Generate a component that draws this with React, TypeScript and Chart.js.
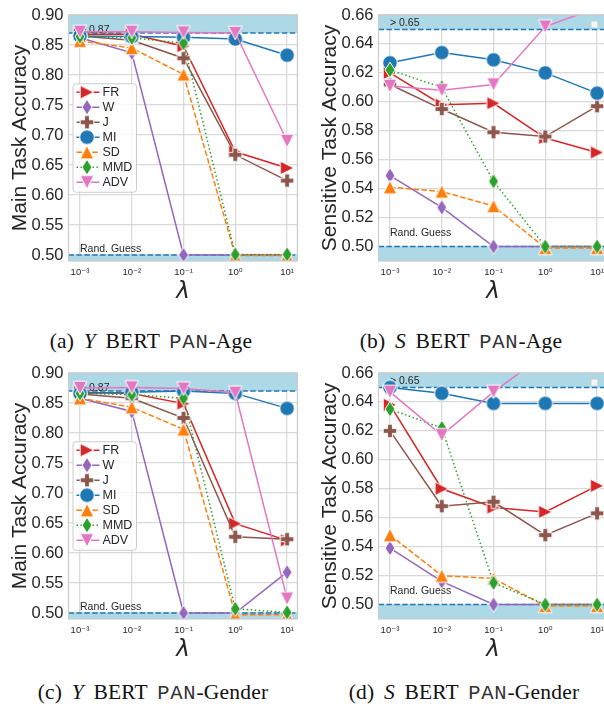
import React, { useEffect, useRef } from 'react';
import { Chart, registerables } from 'chart.js';

Chart.register(...registerables);

// ---------------- data ----------------
const LAMBDAS = [1e-3, 1e-2, 1e-1, 1, 10];
const X_TICK_LABELS = ['10⁻³', '10⁻²', '10⁻¹', '10⁰', '10¹'];
const METHODS = ['FR', 'W', 'J', 'MI', 'SD', 'MMD', 'ADV'];

const MAIN_Y_TICKS = [0.5, 0.55, 0.6, 0.65, 0.7, 0.75, 0.8, 0.85, 0.9];
const SENS_Y_TICKS = [0.5, 0.52, 0.54, 0.56, 0.58, 0.6, 0.62, 0.64, 0.66];

const MAIN_THRESHOLD = 0.87;
const SENS_THRESHOLD = 0.65;
const RAND_GUESS = 0.5;

// (a) Y BERT PAN-Age
const AGE_MAIN: Record<string, number[]> = {
  FR: [0.868, 0.868, 0.848, 0.672, 0.645],
  W: [0.862, 0.837, 0.5, 0.5, 0.5],
  J: [0.865, 0.858, 0.828, 0.667, 0.624],
  MI: [0.865, 0.864, 0.863, 0.86, 0.833],
  SD: [0.857, 0.845, 0.801, 0.499, 0.499],
  MMD: [0.864, 0.862, 0.853, 0.501, 0.501],
  ADV: [0.872, 0.872, 0.871, 0.87, 0.69],
};
// (b) S BERT PAN-Age
const AGE_SENS: Record<string, number[]> = {
  FR: [0.62, 0.598, 0.599, 0.575, 0.565],
  W: [0.549, 0.527, 0.5, 0.5, 0.5],
  J: [0.612, 0.595, 0.579, 0.576, 0.597],
  MI: [0.627, 0.634, 0.629, 0.62, 0.606],
  SD: [0.541, 0.538, 0.528, 0.499, 0.499],
  MMD: [0.622, 0.61, 0.545, 0.5, 0.5],
  ADV: [0.611, 0.608, 0.612, 0.652, 0.665],
};
// (c) Y BERT PAN-Gender
const GENDER_MAIN: Record<string, number[]> = {
  FR: [0.868, 0.866, 0.849, 0.649, 0.621],
  W: [0.858, 0.836, 0.5, 0.5, 0.568],
  J: [0.865, 0.858, 0.825, 0.627, 0.623],
  MI: [0.866, 0.868, 0.87, 0.866, 0.841],
  SD: [0.858, 0.843, 0.806, 0.497, 0.497],
  MMD: [0.866, 0.864, 0.858, 0.507, 0.501],
  ADV: [0.875, 0.876, 0.874, 0.867, 0.524],
};
// (d) S BERT PAN-Gender
const GENDER_SENS: Record<string, number[]> = {
  FR: [0.638, 0.58, 0.567, 0.564, 0.582],
  W: [0.539, 0.516, 0.5, 0.5, 0.5],
  J: [0.62, 0.568, 0.571, 0.548, 0.563],
  MI: [0.65, 0.646, 0.639, 0.639, 0.639],
  SD: [0.548, 0.52, 0.518, 0.499, 0.499],
  MMD: [0.635, 0.622, 0.515, 0.5, 0.5],
  ADV: [0.647, 0.617, 0.647, 0.673, 0.69],
};

// ---------------- styles ----------------
const COLORS = ['#d62728', '#9467bd', '#8c564b', '#1f77b4', '#ff7f0e', '#2ca02c', '#e377c2'];
const MARKERS = ['triRight', 'thinDiamond', 'plus', 'circle', 'triUp', 'thinDiamond', 'triDown'];
const DASHES: number[][] = [[], [], [], [], [5.5, 2.4], [1.5, 2.5], []];
const SANS = '"Liberation Sans", Arial, "DejaVu Sans", sans-serif';
const TEXT = '#262626';
const GRID = '#d9d9d9';
const BAND = '#add8e6';
const REF_LINE = '#1f77b4';

function makeMarker(kind: string, color: string): HTMLCanvasElement {
  const S = 20;
  const c = document.createElement('canvas');
  c.width = S;
  c.height = S;
  const g = c.getContext('2d')!;
  g.translate(S / 2, S / 2);
  g.beginPath();
  const t = 6.8;
  if (kind === 'circle') g.arc(0, 0, 7.3, 0, Math.PI * 2);
  else if (kind === 'triUp') { g.moveTo(0, -t); g.lineTo(t, t); g.lineTo(-t, t); }
  else if (kind === 'triDown') { g.moveTo(0, t); g.lineTo(t, -t); g.lineTo(-t, -t); }
  else if (kind === 'triRight') { g.moveTo(t, 0); g.lineTo(-t, -t); g.lineTo(-t, t); }
  else if (kind === 'thinDiamond') { g.moveTo(0, -7.8); g.lineTo(5, 0); g.lineTo(0, 7.8); g.lineTo(-5, 0); }
  else if (kind === 'plus') {
    const a = 6.8, b = 2.4;
    const pts = [[-b, -a], [b, -a], [b, -b], [a, -b], [a, b], [b, b], [b, a], [-b, a], [-b, b], [-a, b], [-a, -b], [-b, -b]];
    pts.forEach(([x, y], i) => (i === 0 ? g.moveTo(x, y) : g.lineTo(x, y)));
  }
  g.closePath();
  g.fillStyle = color;
  g.fill();
  g.strokeStyle = '#ffffff';
  g.lineWidth = 1;
  g.stroke();
  return c;
}

interface PanelCfg {
  key: string;
  data: Record<string, number[]>;
  yMin: number;
  yMax: number;
  yTicks: number[];
  yTitle: string;
  threshold: number;
  thresholdText: string;
  thresholdTextY: number;
  randTextY: number;
  legend: boolean;
  left: number;
  top: number;
}

const PANELS: PanelCfg[] = [
  { key: 'a', data: AGE_MAIN, yMin: 0.49, yMax: 0.9, yTicks: MAIN_Y_TICKS, yTitle: 'Main Task Accuracy', threshold: MAIN_THRESHOLD, thresholdText: '> 0.87', thresholdTextY: 0.8705, randTextY: 0.505, legend: true, left: 0, top: 0 },
  { key: 'b', data: AGE_SENS, yMin: 0.49, yMax: 0.66, yTicks: SENS_Y_TICKS, yTitle: 'Sensitive Task Accuracy', threshold: SENS_THRESHOLD, thresholdText: '> 0.65', thresholdTextY: 0.6522, randTextY: 0.5075, legend: false, left: 310, top: 0 },
  { key: 'c', data: GENDER_MAIN, yMin: 0.49, yMax: 0.9, yTicks: MAIN_Y_TICKS, yTitle: 'Main Task Accuracy', threshold: MAIN_THRESHOLD, thresholdText: '> 0.87', thresholdTextY: 0.8705, randTextY: 0.5055, legend: true, left: 0, top: 358 },
  { key: 'd', data: GENDER_SENS, yMin: 0.49, yMax: 0.66, yTicks: SENS_Y_TICKS, yTitle: 'Sensitive Task Accuracy', threshold: SENS_THRESHOLD, thresholdText: '> 0.65', thresholdTextY: 0.6522, randTextY: 0.5073, legend: false, left: 310, top: 358 },
];

const CAPTIONS = [
  { label: '(a)', v: 'Y', ds: 'Age', cx: 151, top: 331 },
  { label: '(b)', v: 'S', ds: 'Age', cx: 461, top: 331 },
  { label: '(c)', v: 'Y', ds: 'Gender', cx: 153, top: 682 },
  { label: '(d)', v: 'S', ds: 'Gender', cx: 464, top: 682 },
];

function decoPlugin(cfg: PanelCfg, markers: HTMLCanvasElement[]) {
  return {
    id: 'deco' + cfg.key,
    beforeDatasetsDraw(chart: any) {
      const { ctx, chartArea: a, scales } = chart;
      const x = scales.x, y = scales.y;
      ctx.save();
      ctx.beginPath();
      ctx.rect(a.left, a.top, a.right - a.left, a.bottom - a.top);
      ctx.clip();
      const yThr = y.getPixelForValue(cfg.threshold);
      const yRand = y.getPixelForValue(RAND_GUESS);
      ctx.fillStyle = BAND;
      ctx.fillRect(a.left, a.top, a.right - a.left, yThr - a.top);
      ctx.fillRect(a.left, yRand, a.right - a.left, a.bottom - yRand);
      ctx.strokeStyle = REF_LINE;
      ctx.lineWidth = 1.5;
      ctx.setLineDash([5.5, 2.4]);
      [yThr, yRand].forEach((py) => {
        ctx.beginPath();
        ctx.moveTo(a.left, py);
        ctx.lineTo(a.right, py);
        ctx.stroke();
      });
      ctx.setLineDash([]);
      ctx.fillStyle = TEXT;
      ctx.font = `10.5px ${SANS}`;
      ctx.textAlign = 'left';
      ctx.textBaseline = 'alphabetic';
      const x0 = x.getPixelForValue(LAMBDAS[0]);
      ctx.fillText(cfg.thresholdText, x0, y.getPixelForValue(cfg.thresholdTextY));
      ctx.fillText('Rand. Guess', x0, y.getPixelForValue(cfg.randTextY));
      ctx.restore();
    },
    afterDatasetsDraw(chart: any) {
      const { ctx, chartArea: a } = chart;
      ctx.save();
      ctx.strokeStyle = '#cccccc';
      ctx.lineWidth = 1.25;
      ctx.strokeRect(a.left, a.top, a.right - a.left, a.bottom - a.top);
      if (cfg.legend) {
        const bw = 63.5, bh = 108.5;
        const bx = a.left + 4.5;
        const by = (a.top + a.bottom) / 2 - bh / 2;
        ctx.fillStyle = 'rgba(255,255,255,0.8)';
        ctx.strokeStyle = '#cccccc';
        ctx.lineWidth = 1;
        ctx.beginPath();
        (ctx as any).roundRect(bx, by, bw, bh, 3);
        ctx.fill();
        ctx.stroke();
        ctx.font = `12.5px ${SANS}`;
        ctx.textBaseline = 'middle';
        ctx.textAlign = 'left';
        METHODS.forEach((m, i) => {
          const ry = by + 8.5 + i * 15;
          ctx.strokeStyle = COLORS[i];
          ctx.lineWidth = 1.5;
          ctx.setLineDash(DASHES[i]);
          ctx.beginPath();
          ctx.moveTo(bx + 3.5, ry);
          ctx.lineTo(bx + 26.5, ry);
          ctx.stroke();
          ctx.setLineDash([]);
          const mk = markers[i];
          ctx.drawImage(mk, bx + 14 - mk.width / 2, ry - mk.height / 2);
          ctx.fillStyle = TEXT;
          ctx.fillText(m, bx + 29.5, ry + 0.5);
        });
      } else {
        // empty legend frame (no entries)
        ctx.fillStyle = 'rgba(255,255,255,0.8)';
        ctx.strokeStyle = '#cccccc';
        ctx.lineWidth = 1;
        ctx.beginPath();
        (ctx as any).roundRect(a.right - 16.5, a.top + 6, 7, 7, 1.5);
        ctx.fill();
        ctx.stroke();
      }
      ctx.restore();
    },
  };
}

function Panel({ cfg }: { cfg: PanelCfg }) {
  const ref = useRef<HTMLCanvasElement>(null);
  useEffect(() => {
    const markers = METHODS.map((_, i) => makeMarker(MARKERS[i], COLORS[i]));
    const datasets = METHODS.map((m, i) => ({
      label: m,
      data: LAMBDAS.map((lam, j) => ({ x: lam, y: cfg.data[m][j] })),
      borderColor: COLORS[i],
      backgroundColor: COLORS[i],
      borderWidth: 1.5,
      borderDash: DASHES[i],
      pointStyle: markers[i] as any,
      pointRadius: 7,
      tension: 0,
      clip: 0,
      order: METHODS.length - i,
    }));
    const chart = new Chart(ref.current!, {
      type: 'line',
      data: { datasets },
      plugins: [decoPlugin(cfg, markers)],
      options: {
        responsive: false,
        animation: false,
        events: [],
        layout: { padding: { left: 0, top: 15, right: 1.5, bottom: 0 }, autoPadding: false } as any,
        plugins: { legend: { display: false }, tooltip: { enabled: false } },
        scales: {
          x: {
            type: 'logarithmic',
            min: Math.pow(10, -3.2),
            max: Math.pow(10, 1.2),
            afterBuildTicks: (s: any) => {
              s.ticks = LAMBDAS.map((v) => ({ value: v }));
            },
            afterFit: (s: any) => {
              s.height = 49;
            },
            ticks: {
              autoSkip: false,
              maxRotation: 0,
              padding: 6,
              color: TEXT,
              font: { family: SANS, size: 9.5, lineHeight: 1.2 },
              callback: (v: any) => {
                const idx = LAMBDAS.findIndex((l) => Math.abs(Math.log10(l) - Math.log10(Number(v))) < 1e-6);
                return idx >= 0 ? X_TICK_LABELS[idx] : '';
              },
            },
            grid: { color: GRID, lineWidth: 1.3, drawTicks: false },
            border: { display: false },
            title: {
              display: true,
              text: 'λ',
              color: TEXT,
              font: { family: '"DejaVu Sans", sans-serif', size: 23, style: 'italic', lineHeight: 1 },
              padding: { top: 0, bottom: 6 },
            },
          } as any,
          y: {
            type: 'linear',
            min: cfg.yMin,
            max: cfg.yMax,
            afterBuildTicks: (s: any) => {
              s.ticks = cfg.yTicks.map((v) => ({ value: v }));
            },
            afterFit: (s: any) => {
              s.width = 68.5;
            },
            ticks: {
              padding: 5,
              color: TEXT,
              font: { family: SANS, size: 16.5 },
              callback: (v: any) => Number(v).toFixed(2),
            },
            grid: { color: GRID, lineWidth: 1.3, drawTicks: false },
            border: { display: false },
            title: {
              display: true,
              text: cfg.yTitle,
              color: TEXT,
              font: { family: SANS, size: 21, lineHeight: 1 },
              padding: { top: 10, bottom: 0 },
            },
          } as any,
        },
      },
    });
    return () => chart.destroy();
  }, []);
  return (
    <canvas
      ref={ref}
      width={300}
      height={310}
      style={{ position: 'absolute', left: cfg.left, top: cfg.top, width: 300, height: 310 }}
    />
  );
}

export default function App() {
  return (
    <div
      style={{
        position: 'absolute',
        left: 0,
        top: 0,
        width: 604,
        height: 709,
        overflow: 'hidden',
        background: '#ffffff',
      }}
    >
      {PANELS.map((p) => (
        <Panel key={p.key} cfg={p} />
      ))}
      {CAPTIONS.map((c) => (
        <div
          key={c.label}
          style={{
            position: 'absolute',
            left: c.cx - 150,
            top: c.top,
            width: 300,
            textAlign: 'center',
            fontFamily: '"Liberation Serif", "Times New Roman", serif',
            fontSize: 21.5,
            lineHeight: '20px',
            letterSpacing: '0.2px',
            wordSpacing: '4px',
            color: '#111',
            whiteSpace: 'nowrap',
          }}
        >
          {c.label} <i>{c.v}</i> BERT{' '}
          <span style={{ fontFamily: '"Liberation Mono", "DejaVu Sans Mono", monospace', fontSize: 20.5, letterSpacing: '0.8px', color: '#333' }}>PAN</span>-{c.ds}
        </div>
      ))}
    </div>
  );
}
